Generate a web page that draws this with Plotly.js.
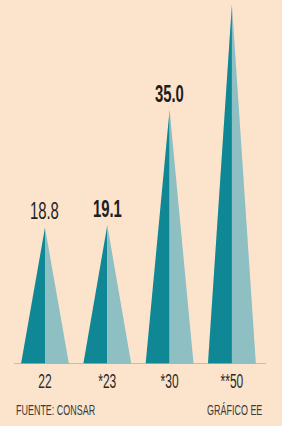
<!DOCTYPE html>
<html>
<head>
<meta charset="utf-8">
<script src="https://cdn.plot.ly/plotly-3.0.1.min.js"></script>
<style>
html,body{margin:0;padding:0;background:#FCE4CC;}
#chart{width:282px;height:426px;}
</style>
</head>
<body>
<div id="chart"></div>
<script>
// Data
const categories = ["22", "*23", "*30", "**50"];
const values = [18.8, 19.1, 35.0, 49.5];
const valueLabels = ["18.8", "19.1", "35.0", ""];
const labelBold = [false, true, true, true];
const sourceText = "FUENTE: CONSAR";
const creditText = "GRÁFICO EE";

const dark = "#0F8794";
const light = "#8DBFC3";
const bg = "#FCE4CC";
const font = "'Liberation Sans', Arial, sans-serif";
const halfW = 0.385;

const traces = [];
categories.forEach((c, i) => {
  const v = values[i];
  traces.push({
    type: "scatter", mode: "lines", fill: "toself", fillcolor: dark,
    line: {width: 0, color: dark}, hoverinfo: "skip", showlegend: false,
    x: [i - halfW, i, i, i - halfW], y: [0, v, 0, 0]
  });
  traces.push({
    type: "scatter", mode: "lines", fill: "toself", fillcolor: light,
    line: {width: 0, color: light}, hoverinfo: "skip", showlegend: false,
    x: [i, i, i + halfW, i], y: [0, v, 0, 0]
  });
});

const annotations = categories.map((c, i) => ({
  x: i, y: values[i], xref: "x", yref: "y",
  text: labelBold[i] ? "<b>" + valueLabels[i] + "</b>" : valueLabels[i],
  showarrow: false, yanchor: "bottom", yshift: 1,
  font: {family: font, size: 24, color: "#1E1E1E"}
}));
annotations.push({
  x: 0.05, y: -0.127, xref: "paper", yref: "paper", xanchor: "left", yanchor: "middle",
  text: sourceText, showarrow: false,
  font: {family: font, size: 14, color: "#3A3A3A"}
});
annotations.push({
  x: 0.935, y: -0.127, xref: "paper", yref: "paper", xanchor: "right", yanchor: "middle",
  text: creditText, showarrow: false,
  font: {family: font, size: 14, color: "#3A3A3A"}
});

const layout = {
  width: 282, height: 426,
  margin: {l: 0, r: 0, t: 0, b: 62},
  paper_bgcolor: bg, plot_bgcolor: bg,
  showlegend: false,
  xaxis: {
    range: [-0.722, 3.804], tickvals: categories.map((c, i) => i), ticktext: categories,
    showgrid: false, zeroline: false, showline: false, ticks: "",
    tickfont: {family: font, size: 20, color: "#2A2A2A"}, ticklabelstandoff: 3,
    fixedrange: true
  },
  yaxis: {
    range: [0, 50.1], showgrid: false, zeroline: false, showline: false,
    showticklabels: false, ticks: "", fixedrange: true
  },
  shapes: [{
    type: "line", xref: "x", yref: "y", x0: -0.5, x1: 3.55, y0: 0, y1: 0,
    line: {color: "#C4AE8E", width: 1.5}, layer: "above"
  }],
  annotations: annotations
};

// Condense text horizontally about its own centre (the reference uses a condensed face)
function condense(el, sx, anchor) {
  const bb = el.getBBox();
  let cx = bb.x + bb.width / 2;
  if (anchor === "left") cx = bb.x;
  if (anchor === "right") cx = bb.x + bb.width;
  const prev = el.getAttribute("transform") || "";
  el.setAttribute("transform", prev + " translate(" + cx + ",0) scale(" + sx + ",1) translate(" + (-cx) + ",0)");
}

Plotly.newPlot("chart", traces, layout, {displayModeBar: false, staticPlot: true}).then(gd => {
  gd.querySelectorAll(".xtick text").forEach(t => condense(t, 0.6, "center"));
  const ann = gd.querySelectorAll(".annotation-text");
  ann.forEach((t, k) => {
    if (k < categories.length) condense(t, 0.62, "center");
    else condense(t, 0.64, k === categories.length ? "left" : "right");
  });
});
</script>
</body>
</html>
